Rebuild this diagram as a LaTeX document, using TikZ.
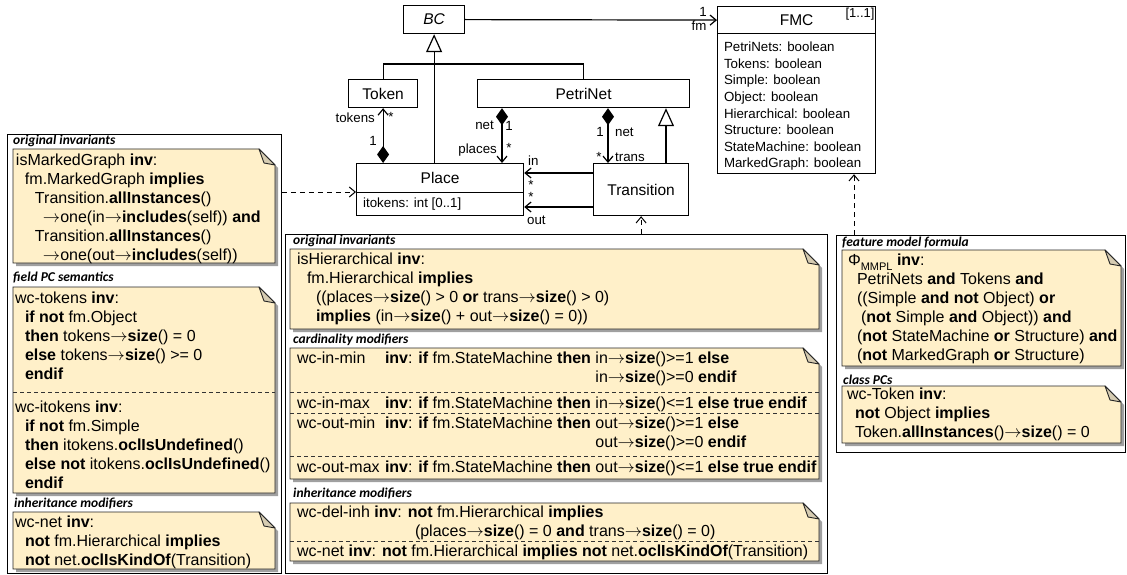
\documentclass[tikz,border=0pt]{standalone}
\usepackage{fontspec}
\setmainfont{Liberation Sans}
\newfontfamily\headfont{Carlito}
\usetikzlibrary{arrows.meta}

\definecolor{notefill}{RGB}{255,240,201}
\definecolor{notefoldc}{RGB}{214,204,178}
\definecolor{noteshadow}{RGB}{160,160,160}

% sticky note with folded corner: x1,y1,x2,y2
\newcommand\notebg[4]{%
  \fill[noteshadow] (#1+3,#2+3) -- (#3-13,#2+3) -- (#3+3,#2+19) -- (#3+3,#4+3) -- (#1+3,#4+3) -- cycle;
  \filldraw[fill=notefill,draw=black!85,line width=0.9pt] (#1,#2) -- (#3-16,#2) -- (#3,#2+16) -- (#3,#4) -- (#1,#4) -- cycle;
  \filldraw[fill=notefoldc,draw=black!85,line width=0.9pt,line join=round] (#3-16,#2) -- (#3-11,#2+14) -- (#3,#2+16) -- cycle;
}
% dashed row separator inside a note: x1,x2,y
\newcommand\rowsep[3]{\draw[rowline] (#1,#3) -- (#2,#3);}
% fixed-width label column for the cardinality rows
\newcommand\tabcol[1]{\makebox[88pt][l]{#1}}
\newcommand\condpre{\textbf{inv}: \textbf{if} fm.StateMachine \textbf{then} }
% OCL navigation arrow
\newcommand\nav{\ensuremath{\rightarrow}}

\tikzset{
  body/.style={anchor=north west, inner sep=0pt, outer sep=0pt, align=left, font=\fontsize{16}{19}\selectfont},
  head/.style={anchor=west, inner sep=0pt, font=\headfont\bfseries\itshape\fontsize{13.5}{15}\selectfont},
  cls/.style={draw, fill=white, line width=1.2pt, inner sep=0pt, anchor=north west, font=\fontsize{15.5}{18}\selectfont},
  panel/.style={draw, fill=white, line width=0.9pt, inner sep=0pt, anchor=north west},
  lbl/.style={inner sep=0pt, font=\fontsize{13.3}{15}\selectfont},
  rowline/.style={dash pattern=on 4pt off 3pt, line width=0.8pt, draw=black!80},
  assoc/.style={line width=1.2pt, -{Straight Barb[length=6pt,width=10pt]}},
  comp/.style={line width=1.2pt, {Diamond[length=17pt,width=12pt]}-{Straight Barb[length=6pt,width=10pt]}},
  inherit/.style={line width=1.2pt, -{Triangle[length=18pt,width=16pt,fill=white]}},
  dep/.style={line width=1pt, dash pattern=on 5pt off 4pt, -{Straight Barb[length=6pt,width=10pt]}},
}

\begin{document}
\begin{tikzpicture}[x=1pt,y=-1pt]
\useasboundingbox (0,0) rectangle (1127,575);

% ---------- class diagram ----------
\node[cls, minimum width=61pt, minimum height=28pt] (bc) at (403,5) {\itshape BC};
\node[cls, minimum width=158pt, minimum height=27pt] (fmc) at (717,6) {FMC};
\node[cls, minimum width=158pt, minimum height=140pt] (fmcattr) at (717,33) {};
\node[lbl, font=\fontsize{13}{15}\selectfont] (fmcmult) at (860,14) {[1..1]};
\node[body, font=\fontsize{13.3}{16.6}\selectfont] (fmcattrs) at (724,40) {\strut PetriNets: boolean\\Tokens: boolean\\Simple: boolean\\Object: boolean\\Hierarchical: boolean\\Structure: boolean\\StateMachine: boolean\\MarkedGraph: boolean};

\node[cls, minimum width=69pt, minimum height=28pt] (token) at (348,79) {Token};
\node[cls, minimum width=212pt, minimum height=28pt] (petri) at (477,79) {PetriNet};
\node[cls, minimum width=167pt, minimum height=29pt] (place) at (356,163) {Place};
\node[cls, minimum width=167pt, minimum height=23pt] (placeattr) at (356,192) {};
\node[lbl, anchor=west] (itok) at (363,204) {itokens: int [0..1]};
\node[cls, minimum width=95pt, minimum height=52pt] (trans) at (593,163) {Transition};

% generalisations
\draw[line width=1.2pt] (token.north) |- (petri.north |- 0,64) -- (petri.north);
\draw[inherit] (place.north -| bc.south) -- (bc.south);
\draw[inherit] (trans.north -| 666,0) -- (petri.south -| 666,0);

% associations
\draw[assoc] (bc.east) -- (fmc.west);
\node[lbl] (l1fm) at (703,12) {1};
\node[lbl] (lfm) at (699,26) {fm};

\draw[comp] (place.north -| token.south) -- (token.south);
\node[lbl, anchor=east] (ltok) at (375,118) {tokens};
\node[lbl] (ltokm) at (391,117) {*};
\node[lbl] (ltok1) at (373,141) {1};

\draw[comp] (petri.south -| 502,0) -- (place.north -| 502,0);
\node[lbl, anchor=east] (lnet1) at (494,125) {net};
\node[lbl] (lnet1m) at (509,126) {1};
\node[lbl, anchor=east] (lplaces) at (497,150) {places};
\node[lbl] (lplacesm) at (509,148) {*};

\draw[comp] (petri.south -| 608,0) -- (trans.north -| 608,0);
\node[lbl] (lnet2m) at (600,132) {1};
\node[lbl, anchor=west] (lnet2) at (615,132) {net};
\node[lbl] (ltransm) at (599,157) {*};
\node[lbl, anchor=west] (ltrans) at (615,157) {trans};

\draw[assoc] (trans.west |- 0,173) -- (place.east |- 0,173);
\draw[assoc] (trans.west |- 0,207) -- (placeattr.east |- 0,207);
\node[lbl, anchor=west] (lin) at (528,161) {in};
\node[lbl] (linm) at (531,185) {*};
\node[lbl] (loutm) at (531,197) {*};
\node[lbl, anchor=west] (lout) at (527,220) {out};

% ---------- constraint panels ----------
\node[panel, minimum width=274pt, minimum height=439pt] (lpanel) at (7,134) {};
\node[panel, minimum width=542pt, minimum height=339pt] (mpanel) at (285,234) {};
\node[panel, minimum width=289pt, minimum height=217pt] (rpanel) at (836,235) {};

\draw[dep] (lpanel.east |- placeattr.north west) -- (placeattr.north west);
\draw[dep] (mpanel.north -| trans.south) -- (trans.south);
\draw[dep] (rpanel.north -| 854,0) -- (fmcattr.south -| 854,0);

% left panel
\node[head] (hl1) at (13,141) {original invariants};
\notebg{13}{149}{275}{263}
\node[body] (isMG) at (16,152.2) {\strut isMarkedGraph \textbf{inv}:\\
\hspace*{9pt}fm.MarkedGraph \textbf{implies}\\
\hspace*{19pt}Transition.\textbf{allInstances}()\\
\hspace*{27pt}\nav one(in\nav\textbf{includes}(self)) \textbf{and}\\
\hspace*{19pt}Transition.\textbf{allInstances}()\\
\hspace*{27pt}\nav one(out\nav\textbf{includes}(self))};

\node[head] (hl2) at (13,278) {field PC semantics};
\notebg{13}{287}{275}{493}
\rowsep{13}{275}{392}
\node[body] (wctok) at (15,290.2) {\strut wc-tokens \textbf{inv}:\\
\hspace*{10pt}\textbf{if not} fm.Object\\
\hspace*{10pt}\textbf{then} tokens\nav\textbf{size}() = 0\\
\hspace*{10pt}\textbf{else} tokens\nav\textbf{size}() >= 0\\
\hspace*{10pt}\textbf{endif}};
\node[body] (wcitok) at (15,399.2) {\strut wc-itokens \textbf{inv}:\\
\hspace*{10pt}\textbf{if not} fm.Simple\\
\hspace*{10pt}\textbf{then} itokens.\textbf{oclIsUndefined}()\\
\hspace*{10pt}\textbf{else not} itokens.\textbf{oclIsUndefined}()\\
\hspace*{10pt}\textbf{endif}};

\node[head] (hl3) at (14,504) {inheritance modifiers};
\notebg{13}{512}{275}{569}
\node[body] (wcnetl) at (15,514.2) {\strut wc-net \textbf{inv}:\\
\hspace*{10pt}\textbf{not} fm.Hierarchical \textbf{implies}\\
\hspace*{10pt}\textbf{not} net.\textbf{oclIsKindOf}(Transition)};

% middle panel
\node[head] (hm1) at (293,241) {original invariants};
\notebg{290}{249}{819}{329}
\node[body] (isH) at (297,251.2) {\strut isHierarchical \textbf{inv}:\\
\hspace*{10pt}fm.Hierarchical \textbf{implies}\\
\hspace*{19pt}((places\nav\textbf{size}() > 0 \textbf{or} trans\nav\textbf{size}() > 0)\\
\hspace*{19pt}\textbf{implies} (in\nav\textbf{size}() + out\nav\textbf{size}() = 0))};

\node[head] (hm2) at (293,340) {cardinality modifiers};
\notebg{290}{348}{819}{479}
\rowsep{290}{819}{392}
\rowsep{290}{819}{413}
\rowsep{290}{819}{456}
\node[body] (inmin) at (297,350.2) {\strut\tabcol{wc-in-min}\condpre in\nav\textbf{size}()>=1 \textbf{else}\\
\tabcol{}\phantom{\condpre}in\nav\textbf{size}()>=0 \textbf{endif}};
\node[body] (inmax) at (297,394.7) {\strut\tabcol{wc-in-max}\condpre in\nav\textbf{size}()<=1 \textbf{else true endif}};
\node[body] (outmin) at (297,414.7) {\strut\tabcol{wc-out-min}\condpre out\nav\textbf{size}()>=1 \textbf{else}\\
\tabcol{}\phantom{\condpre}out\nav\textbf{size}()>=0 \textbf{endif}};
\node[body] (outmax) at (297,459.2) {\strut\tabcol{wc-out-max}\condpre out\nav\textbf{size}()<=1 \textbf{else true endif}};

\node[head] (hm3) at (293,494) {inheritance modifiers};
\notebg{290}{503}{819}{561}
\rowsep{290}{819}{541}
\node[body] (delinh) at (297,504.2) {\strut wc-del-inh \textbf{inv}: \textbf{not} fm.Hierarchical \textbf{implies}\\
\hspace*{118pt}(places\nav\textbf{size}() = 0 \textbf{and} trans\nav\textbf{size}() = 0)};
\node[body] (wcnetm) at (297,543.2) {\strut wc-net \textbf{inv}: \textbf{not} fm.Hierarchical \textbf{implies not} net.\textbf{oclIsKindOf}(Transition)};

% right panel
\node[head] (hr1) at (842,243) {feature model formula};
\notebg{842}{250}{1121}{366}
\node[body] (phi) at (848,252.2) {\strut Φ\raisebox{-4.5pt}{\fontsize{11}{11}\selectfont MMPL} \textbf{inv}:\\
\hspace*{9pt}PetriNets \textbf{and} Tokens \textbf{and}\\
\hspace*{9pt}((Simple \textbf{and not} Object) \textbf{or}\\
\hspace*{13pt}(\textbf{not} Simple \textbf{and} Object)) \textbf{and}\\
\hspace*{9pt}(\textbf{not} StateMachine \textbf{or} Structure) \textbf{and}\\
\hspace*{9pt}(\textbf{not} MarkedGraph \textbf{or} Structure)};

\node[head] (hr2) at (843,380) {class PCs};
\notebg{842}{386}{1121}{443}
\node[body] (wctoken) at (847,386.2) {\strut wc-Token \textbf{inv}:\\
\hspace*{8pt}\textbf{not} Object \textbf{implies}\\
\hspace*{8pt}Token.\textbf{allInstances}()\nav\textbf{size}() = 0};
\end{tikzpicture}
\end{document}
